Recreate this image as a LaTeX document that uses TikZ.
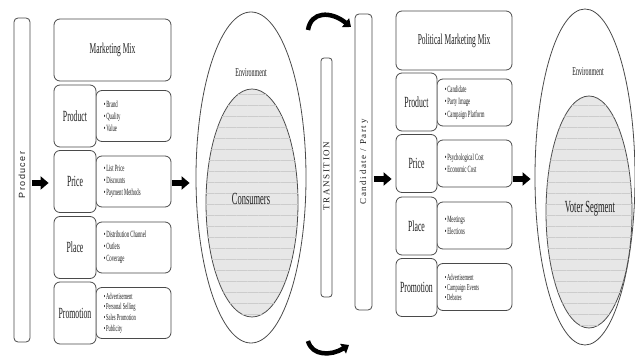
\documentclass[tikz,border=0pt]{standalone}
\usepackage{fontspec}
\setmainfont{Liberation Serif}
\newfontfamily\cond{Liberation Serif}[FakeStretch=0.5]
\newfontfamily\spcsans{Liberation Sans}[LetterSpace=16]
\newfontfamily\spcserif{Liberation Serif}[LetterSpace=18]
\usetikzlibrary{shapes.geometric,arrows.meta,patterns.meta}
\definecolor{linec}{HTML}{4A4A4A}
\definecolor{txt}{HTML}{1E1E1E}
\newcommand{\bul}{•\hspace{0.8pt}}
\tikzset{
  box/.style={draw=linec, line width=0.8pt, rounded corners=6pt, fill=white, inner sep=0pt, text=txt},
  lbl/.style={box, minimum width=42pt, minimum height=62pt, font=\cond\fontsize{15.5}{15.5}\selectfont},
  lblR/.style={lbl, minimum width=41pt, minimum height=58pt},
  cnt/.style={box, minimum width=75pt, minimum height=51pt},
  cntR/.style={cnt, minimum height=47pt},
  title/.style={box, font=\cond\fontsize{15}{15}\selectfont},
  items/.style={anchor=west, align=left, inner sep=0pt, text=txt, font=\cond\fontsize{9.5}{12}\selectfont},
  bar/.style={box, rounded corners=4pt},
  bartext/.style={rotate=90, inner sep=0pt, text=txt},
  barrow/.style={line width=6pt, draw=black, -{Triangle[length=8pt,width=13pt]}},
  curvarrow/.style={line width=4.5pt, draw=black, -{Triangle[length=7pt,width=11pt]}},
  env/.style={ellipse, draw=linec, line width=0.8pt, inner sep=0pt},
  seg/.style={ellipse, draw=linec, line width=0.8pt, inner sep=0pt, fill=gray!14,
    postaction={pattern={Dots[radius=0.3pt,distance=2pt]}, pattern color=gray!70},
    postaction={pattern={Lines[distance=11pt,line width=0.3pt]}, pattern color=gray!40}},
  envtxt/.style={inner sep=0pt, text=txt, font=\cond\fontsize{12}{12}\selectfont},
  segtxt/.style={inner sep=0pt, text=txt, font=\cond\fontsize{17}{17}\selectfont}
}
\begin{document}
\begin{tikzpicture}[x=1pt,y=-1pt]
\useasboundingbox (0,0) rectangle (635,358);

% ---------------- left half ----------------
\node[bar, minimum width=16pt, minimum height=324pt] (producer) at (22,180) {};
\node[bartext, font=\spcsans\fontsize{9}{9}\selectfont] (producerT) at (22,175) {Producer};

\node[title, minimum width=117pt, minimum height=62pt] (mmL) at (112.5,50) {Marketing Mix};

\node[cnt] (prodLc) at (133.5,116) {};
\node[cnt] (priceLc) at (133.5,181.5) {};
\node[cnt] (placeLc) at (133.5,247.5) {};
\node[cnt] (promoLc) at (133.5,313) {};

\node[lbl] (prodL) at (75,116) {Product};
\node[lbl] (priceL) at (75,181.5) {Price};
\node[lbl] (placeL) at (75,247.5) {Place};
\node[lbl] (promoL) at (75,313) {Promotion};

\node[items] (prodLi) at ([xshift=8pt]prodLc.west) {\bul Brand\\\bul Quality\\\bul Value};
\node[items] (priceLi) at ([xshift=8pt]priceLc.west) {\bul List Price\\\bul Discounts\\\bul Payment Methods};
\node[items] (placeLi) at ([xshift=8pt]placeLc.west) {\bul Distribution Channel\\\bul Outlets\\\bul Coverage};
\node[items, font=\cond\fontsize{9}{10.7}\selectfont] (promoLi) at ([xshift=8pt]promoLc.west) {\bul Advertisement\\\bul Personal Selling\\\bul Sales Promotion\\\bul Publicity};

\node[env, minimum width=110pt, minimum height=331pt] (envL) at (251,177.5) {};
\node[envtxt] (envLt) at (251,73) {Environment};
\node[seg, minimum width=92pt, minimum height=228pt] (consumers) at (252,203) {};
\node[segtxt] (consumersT) at (251,199) {Consumers};

\coordinate (arL) at (0,183);
\draw[barrow, shorten <=1.5pt, shorten >=5pt] (producer.east |- arL) -- (priceL.west |- arL);
\draw[barrow, shorten <=1pt, shorten >=6pt] (priceLc.east |- arL) -- (envL.west |- arL);

% ---------------- transition ----------------
\coordinate (t1) at (308,30);
\coordinate (t2) at (351,27);
\draw[curvarrow] (t1) .. controls (311,11) and (331,11) .. (t2);
\coordinate (b1) at (308,341);
\coordinate (b2) at (349,345);
\draw[curvarrow] (b1) .. controls (312,356) and (331,356) .. (b2);

\node[bar, rounded corners=3pt, minimum width=11pt, minimum height=239pt] (trans) at (326.5,177.5) {};
\node[bartext, font=\spcserif\fontsize{9}{9}\selectfont] (transT) at (326.5,176) {TRANSITION};

\node[bar, minimum width=17pt, minimum height=296pt] (cand) at (363.5,162) {};
\node[bartext, font=\spcserif\fontsize{9}{9}\selectfont] (candT) at (364,162) {Candidate / Party};

% ---------------- right half ----------------
\node[title, minimum width=116pt, minimum height=59pt] (mmR) at (454,40.5) {Political Marketing Mix};

\node[cntR] (prodRc) at (474.5,102.5) {};
\node[cntR] (priceRc) at (474.5,163.5) {};
\node[cntR] (placeRc) at (474.5,225.5) {};
\node[cntR] (promoRc) at (474.5,287) {};

\node[lblR] (prodR) at (416.5,102) {Product};
\node[lblR] (priceR) at (416.5,163.5) {Price};
\node[lblR] (placeR) at (416.5,226) {Place};
\node[lblR] (promoR) at (416.5,287.5) {Promotion};

\node[items, font=\cond\fontsize{9.5}{12.5}\selectfont] (prodRi) at ([xshift=8pt]prodRc.west) {\bul Candidate\\\bul Party Image\\\bul Campaign Platform};
\node[items, font=\cond\fontsize{9.5}{11.5}\selectfont] (priceRi) at ([xshift=8pt]priceRc.west) {\bul Psychological Cost\\\bul Economic Cost};
\node[items, font=\cond\fontsize{9.5}{12.5}\selectfont] (placeRi) at ([xshift=8pt]placeRc.west) {\bul Meetings\\\bul Elections};
\node[items, font=\cond\fontsize{9}{10}\selectfont] (promoRi) at ([xshift=8pt]promoRc.west) {\bul Advertisement\\\bul Campaign Events\\\bul Debates};

\node[env, minimum width=100pt, minimum height=336pt] (envR) at (585,177) {};
\node[envtxt] (envRt) at (588,72) {Environment};
\node[seg, minimum width=86pt, minimum height=232pt] (voters) at (589,212) {};
\node[segtxt] (votersT) at (590,209) {Voter Segment};

\coordinate (arR) at (0,179);
\draw[barrow, shorten <=1.5pt, shorten >=4pt] (cand.east |- arR) -- (priceR.west |- arR);
\draw[barrow, shorten <=1pt, shorten >=4pt] (priceRc.east |- arR) -- (envR.west |- arR);
\end{tikzpicture}
\end{document}
